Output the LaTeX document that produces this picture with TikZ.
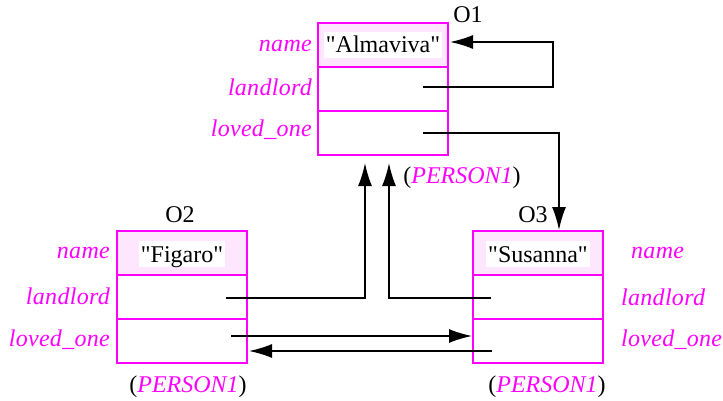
\documentclass[tikz,border=0pt]{standalone}
\usepackage{fontspec}
\setmainfont{Liberation Serif}[Ligatures=TeXOff]
\usetikzlibrary{arrows.meta}
\definecolor{mag}{HTML}{FF00FF}
\definecolor{namefill}{HTML}{FFE6FF}
\begin{document}
\begin{tikzpicture}[x=1pt,y=-1pt,
  font=\fontsize{24}{28}\selectfont,
  row/.style={draw=mag, line width=2pt, minimum width=130pt, minimum height=44pt, inner sep=0pt, outer sep=0pt},
  namerow/.style={row, fill=namefill},
  valbox/.style={fill=white, inner xsep=2pt, inner ysep=0pt, text height=21pt, text depth=5pt, anchor=base},
  lab/.style={text=mag, font=\fontsize{24}{28}\selectfont\itshape\addfontfeatures{LetterSpace=1.2}, inner sep=0pt},
  objlab/.style={inner sep=0pt, anchor=base},
  link/.style={line width=1.5pt, draw=black},
  arrowed/.style={-{Latex[length=23pt,width=14pt]}}
]
\useasboundingbox (0,0) rectangle (723,401);

% ---- O1 ----
\node[namerow] (o1n) at (383,45) {};
\node[row] (o1l) at (383,89) {};
\node[row] (o1o) at (383,133) {};
\node[valbox] (o1v) at (383,53) {"Almaviva"};
\node[objlab] (o1t) at (468,23) {O1};
\node[lab, anchor=base east] (o1a) at (312,52) {name};
\node[lab, anchor=base east] (o1b) at (312,96) {landlord};
\node[lab, anchor=base east] (o1c) at (312,137) {loved\_one};
\node[objlab] (o1p) at (462,183) {(\textcolor{mag}{\itshape PERSON1\/})};

% ---- O2 ----
\node[namerow] (o2n) at (182,253) {};
\node[row] (o2l) at (182,297) {};
\node[row] (o2o) at (182,341) {};
\node[valbox] (o2v) at (182,262) {"Figaro"};
\node[objlab] (o2t) at (180,222) {O2};
\node[lab, anchor=base east] (o2a) at (110,258) {name};
\node[lab, anchor=base east] (o2b) at (110,304) {landlord};
\node[lab, anchor=base east] (o2c) at (110,346) {loved\_one};
\node[objlab] (o2p) at (188,392) {(\textcolor{mag}{\itshape PERSON1\/})};

% ---- O3 ----
\node[namerow] (o3n) at (538,253) {};
\node[row] (o3l) at (538,297) {};
\node[row] (o3o) at (538,341) {};
\node[valbox] (o3v) at (538,262) {"Susanna"};
\node[objlab] (o3t) at (533,222) {O3};
\node[lab, anchor=base west] (o3a) at (631,258) {name};
\node[lab, anchor=base west] (o3b) at (621,305) {landlord};
\node[lab, anchor=base west] (o3c) at (621,346) {loved\_one};
\node[objlab] (o3p) at (547,392) {(\textcolor{mag}{\itshape PERSON1\/})};

% ---- connector ends ----
\coordinate (o1ls) at (423,87);
\coordinate (o1nt) at (450,42);
\coordinate (o1os) at (423,133);
\coordinate (o3top) at (559,230);
\coordinate (o2ls) at (226,298);
\coordinate (o1b1) at (365,163);
\coordinate (o3ls) at (491,298);
\coordinate (o1b2) at (389,163);
\coordinate (o2os) at (231,336);
\coordinate (o3ot) at (472,336);
\coordinate (o3os) at (492,351);
\coordinate (o2ot) at (249,351);

% ---- connectors ----
\draw[link,arrowed] (o1ls) -- ++(130,0) |- (o1nt);
\draw[link,arrowed] (o1os) -| (o3top);
\draw[link,arrowed] (o2ls) -| (o1b1);
\draw[link,arrowed] (o3ls) -| (o1b2);
\draw[link,arrowed] (o2os) -- (o3ot);
\draw[link,arrowed] (o3os) -- (o2ot);
\end{tikzpicture}
\end{document}
